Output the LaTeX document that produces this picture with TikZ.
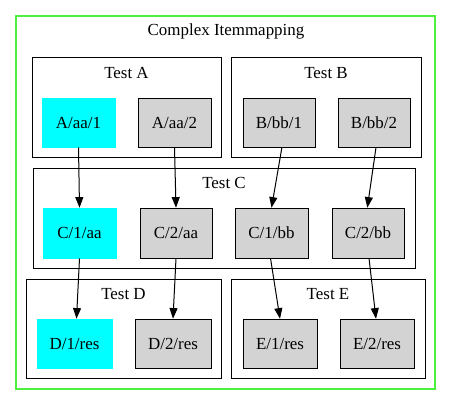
\documentclass[tikz,border=0pt]{standalone}
\usepackage{fontspec}
\setmainfont{Liberation Serif}
\usetikzlibrary{arrows.meta}
\definecolor{gvgreen}{RGB}{77,240,60}
\definecolor{gvgray}{RGB}{211,211,211}
\definecolor{gvcyan}{RGB}{0,255,255}
\begin{document}
\begin{tikzpicture}[x=0.75pt,y=-0.75pt,
  lbl/.style={font=\fontsize{12.7}{14}\selectfont, inner sep=0pt},
  cyanbox/.style={fill=gvcyan, draw=gvcyan, line width=0.75pt},
  graybox/.style={fill=gvgray, draw=black, line width=0.75pt},
  clusterbox/.style={draw=black, line width=0.75pt},
  edge/.style={draw=black, line width=0.75pt, -{Triangle[length=8pt,width=6pt]}}]
\useasboundingbox (0,0) rectangle (452,405);
\draw[gvgreen, line width=0.9pt] (16,16) rectangle (435,389);
\node[lbl] (title) at (226,31) {Complex Itemmapping};
% clusters
\draw[clusterbox] (32,57) rectangle (221,157);
\node[lbl] (tA) at (126.5,73) {Test A};
\draw[clusterbox] (231,57) rectangle (421,157);
\node[lbl] (tB) at (326,73) {Test B};
\draw[clusterbox] (33,168) rectangle (415,268);
\node[lbl] (tC) at (224,183) {Test C};
\draw[clusterbox] (26,279) rectangle (221,378);
\node[lbl] (tD) at (123.5,294) {Test D};
\draw[clusterbox] (231,279) rectangle (425,378);
\node[lbl] (tE) at (328,294) {Test E};
% nodes
\newcommand{\gvnode}[7]{%
  \path[#1] (#3,#4) rectangle (#5,#6);
  \node[lbl, minimum width={(#5-#3)*0.75pt}, minimum height={(#6-#4)*0.75pt}] (#2) at ({(#3+#5)/2},{(#4+#6)/2}) {#7};}
\gvnode{cyanbox}{a1}{42}{98}{115}{147}{A/aa/1}
\gvnode{graybox}{a2}{138}{98}{211}{147}{A/aa/2}
\gvnode{graybox}{b1}{243}{98}{315}{147}{B/bb/1}
\gvnode{graybox}{b2}{338}{98}{410}{147}{B/bb/2}
\gvnode{cyanbox}{c1}{43}{208}{116}{258}{C/1/aa}
\gvnode{graybox}{c2}{140}{208}{212}{258}{C/2/aa}
\gvnode{graybox}{c3}{235}{208}{308}{258}{C/1/bb}
\gvnode{graybox}{c4}{332}{208}{404}{258}{C/2/bb}
\gvnode{cyanbox}{d1}{37}{319}{112}{368}{D/1/res}
\gvnode{graybox}{d2}{135}{319}{211}{368}{D/2/res}
\gvnode{graybox}{e1}{243}{319}{317}{368}{E/1/res}
\gvnode{graybox}{e2}{340}{319}{414}{368}{E/2/res}
% edges
\draw[edge] (a1.south) -- (c1.north);
\draw[edge] (a2.south) -- (c2.north);
\draw[edge] ([xshift=2.2pt]b1.south) -- (c3.north);
\draw[edge] ([xshift=1.5pt]b2.south) -- ([xshift=-0.5pt]c4.north);
\draw[edge] (c1.south) -- ([xshift=1.5pt]d1.north);
\draw[edge] (c2.south) -- ([xshift=0.0pt]d2.north);
\draw[edge] ([xshift=-0.75pt]c3.south) -- (e1.north);
\draw[edge] ([xshift=0.75pt]c4.south) -- ([xshift=-0.75pt]e2.north);
\end{tikzpicture}
\end{document}
